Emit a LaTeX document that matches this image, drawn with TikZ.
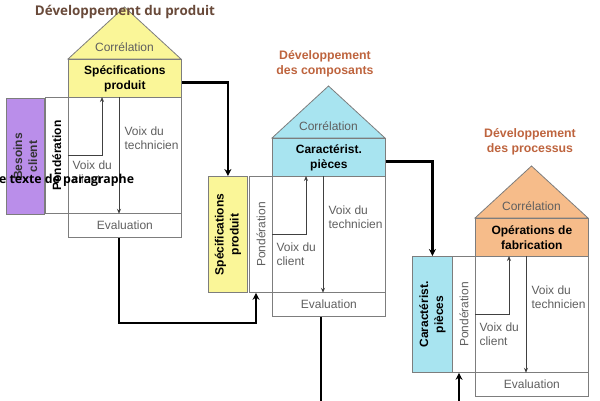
\documentclass[tikz,border=0pt]{standalone}
\usepackage{fontspec}
\setmainfont{Liberation Sans}
\newfontfamily\roundfont{Open Sans}
\usetikzlibrary{arrows.meta}

\definecolor{specyellow}{RGB}{250,246,152}
\definecolor{piececyan}{RGB}{168,228,240}
\definecolor{procorange}{RGB}{246,188,138}
\definecolor{besoinpurple}{RGB}{186,142,234}
\definecolor{framegray}{RGB}{125,125,125}
\definecolor{labelgray}{RGB}{95,95,95}
\definecolor{titlebrown}{RGB}{105,74,58}
\definecolor{stagebrown}{RGB}{190,100,62}

\begin{document}
\begin{tikzpicture}[x=1pt,y=-1pt,
    cell/.style={draw=framegray,line width=0.8pt,inner sep=0pt,anchor=north west},
    txt/.style={font=\fontsize{12}{14.5}\selectfont},
    label/.style={txt,text=labelgray},
    boldlabel/.style={txt,font=\fontsize{12}{15}\selectfont\bfseries,align=center},
    ponda/.style={txt,font=\fontsize{12}{14.5}\selectfont\bfseries},
    pondb/.style={label},
    stage/.style={font=\fontsize{12.3}{15}\selectfont\bfseries,text=stagebrown,align=center},
    thinarrow/.style={draw=black!75,line width=0.8pt,-{Stealth[length=5pt,width=4pt]}},
    link/.style={line width=2.6pt,-{Stealth[length=7pt,width=7pt]}}]

    \useasboundingbox (0,0) rectangle (600,400);

    % three houses of quality
    \foreach \X/\Y/\i/\col/\ptxt/\pst/\cy in {68/97/1/specyellow/{Spécifications\\produit}/ponda/75,
                                          272/176/2/piececyan/{Caractérist.\\pièces}/pondb/78,
                                          475/256/3/procorange/{Opérations de\\fabrication}/pondb/78}{
        \draw[cell,fill=\col] (\X,\Y-38) -- (\X+56.5,\Y-90) -- (\X+113,\Y-38) -- cycle;
        \node[label] (corr\i) at (\X+56.5,\Y-50) {Corrélation};
        \node[cell,fill=\col,minimum width=113pt,minimum height=38pt,boldlabel] (house\i) at (\X,\Y-38) {\ptxt};
        \node[cell,minimum width=113pt,minimum height=116pt] (grid\i) at (\X,\Y) {};
        \node[cell,minimum width=113pt,minimum height=24pt,label] (eval\i) at (\X,\Y+116) {Evaluation};
        \node[cell,minimum width=23pt,minimum height=116pt] (pond\i) at (\X-23,\Y) {};
        \node[\pst,rotate=90] at (pond\i.center) {Pondération};

        \draw[thinarrow] ([xshift=51pt]grid\i.north west) -- ([xshift=51pt]grid\i.south west);
        \draw[thinarrow] ([yshift=-58pt]grid\i.north west) -| ([xshift=34pt]grid\i.north west);
        \node[label,align=left,anchor=west] at ([xshift=53pt,yshift=-41pt]grid\i.north west) {Voix du\\technicien};
        \node[label,align=left,anchor=west] at ([xshift=1pt,yshift=-\cy pt]grid\i.north west) {Voix du\\client};
    }

    % inputs on the left
    \node[cell,fill=besoinpurple,minimum width=38pt,minimum height=116pt] (left1) at (6,98) {};
    \node[boldlabel,text=black!80,rotate=90] at (left1.center) {Besoins\\client};
    \node[cell,fill=specyellow,minimum width=39pt,minimum height=116pt] (left2) at (208,176) {};
    \node[boldlabel,rotate=90] at (left2.center) {Spécifications\\produit};
    \node[cell,fill=piececyan,minimum width=40pt,minimum height=116pt] (left3) at (412,256) {};
    \node[boldlabel,rotate=90] at (left3.center) {Caractérist.\\pièces};

    % titles
    \node[font=\roundfont\bfseries\fontsize{13.4}{16}\selectfont,text=titlebrown] (title1) at (125,12) {Développement du produit};
    \node[stage] (title2) at (325,64) {Développement\\des composants};
    \node[stage] (title3) at (530,142) {Développement\\des processus};

    % cascade
    \draw[link] ([yshift=-4pt]house1.east) -| (left2.north);
    \draw[link] ([xshift=51pt]eval1.south west) -- ++(0,85) -| ([xshift=7pt]pond2.south west);
    \draw[link] ([yshift=-4pt]house2.east) -| (left3.north);
    \draw[link] ([xshift=49pt]eval2.south west) -- ++(0,96) -| ([xshift=7pt]pond3.south west);

    \node[font=\roundfont\bfseries\fontsize{12.3}{14}\selectfont,anchor=west,inner sep=0pt] (overlay) at (-1,180) {e texte de paragraphe};
\end{tikzpicture}
\end{document}
